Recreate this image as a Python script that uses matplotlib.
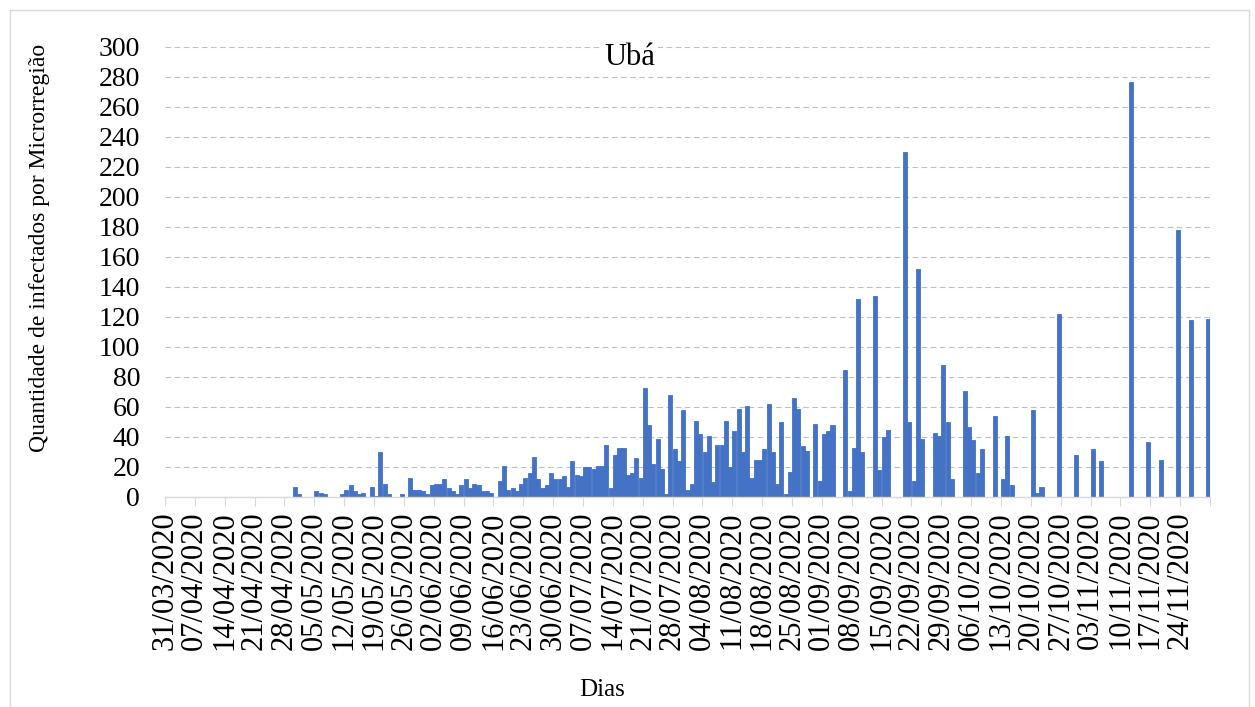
import matplotlib.pyplot as plt
import pandas as pd
from matplotlib.patches import Rectangle

plt.rcParams['font.family'] = ['Liberation Serif', 'DejaVu Serif']

# casos diarios, 31/03/2020 a 30/11/2020
start = "2020-03-31"
casos = [
    0, 0, 0, 0, 0, 0, 0, 0, 0, 0,
    0, 0, 0, 0, 0, 0, 0, 0, 0, 0,
    0, 0, 0, 0, 0, 0, 0, 0, 0, 0,
    7, 2, 0, 0, 0, 4, 3, 2, 0, 0,
    0, 2, 5, 8, 4, 2, 3, 0, 7, 1,
    30, 9, 2, 0, 0, 2, 0, 13, 5, 5,
    4, 2, 8, 9, 9, 12, 6, 4, 2, 8,
    12, 6, 9, 8, 4, 4, 3, 0, 11, 21,
    5, 6, 4, 9, 13, 16, 27, 12, 6, 8,
    16, 12, 12, 14, 7, 24, 15, 14, 20, 20,
    19, 21, 21, 35, 6, 28, 33, 33, 15, 16,
    26, 13, 73, 48, 22, 39, 19, 2, 68, 32,
    24, 58, 5, 9, 51, 42, 30, 41, 10, 35,
    35, 51, 20, 44, 59, 30, 61, 13, 25, 25,
    32, 62, 30, 9, 50, 2, 17, 66, 59, 34,
    31, 0, 49, 11, 42, 44, 48, 0, 0, 85,
    4, 33, 132, 30, 0, 0, 134, 18, 40, 45,
    0, 0, 0, 230, 50, 11, 152, 39, 0, 0,
    43, 41, 88, 50, 12, 0, 0, 71, 47, 38,
    16, 32, 0, 0, 54, 0, 12, 41, 8, 0,
    0, 0, 0, 58, 3, 7, 0, 0, 0, 122,
    0, 0, 0, 28, 0, 0, 0, 32, 0, 24,
    0, 0, 0, 0, 0, 0, 277, 0, 0, 0,
    37, 0, 0, 25, 0, 0, 0, 178, 0, 0,
    118, 0, 0, 0, 119,
]
dias = pd.date_range(start, periods=len(casos), freq="D")
yticks = list(range(0, 301, 20))

W, H = 1255, 707
fig = plt.figure(figsize=(W / 100, H / 100), dpi=100)
ax = fig.add_axes([165 / W, 1 - 497 / H, (1210 - 165) / W, (497 - 47) / H])

x = [i + 0.5 for i in range(len(casos))]
ax.bar(x, casos, width=0.95, color="#4472C4", edgecolor="#4472C4",
       linewidth=0.6, zorder=2)

ax.set_xlim(0, len(casos))
ax.set_ylim(0, 300)
ax.set_yticks(yticks)
ax.set_yticklabels([str(v) for v in yticks], fontsize=20)

pos = list(range(0, len(casos) + 1, 7))
labels = [dias[p].strftime("%d/%m/%Y") if p < len(casos) else "" for p in pos]
ax.set_xticks(pos)
ax.set_xticklabels(labels, rotation=90, fontsize=22)

ax.yaxis.grid(True, color="#bfbfbf", lw=0.8, linestyle=(0, (5, 3.2)), zorder=0)
ax.set_axisbelow(True)
for s in ["top", "right", "left"]:
    ax.spines[s].set_visible(False)
ax.spines["bottom"].set_color("#d9d9d9")
ax.spines["bottom"].set_linewidth(1)
ax.tick_params(axis="y", length=0, pad=18)
ax.tick_params(axis="x", length=6.5, color="#d9d9d9", pad=4)

fig.text(630 / W, 1 - 65 / H, "Ubá", fontsize=22, ha="center", va="baseline",
         bbox=dict(facecolor="white", edgecolor="none", pad=2), zorder=5)
fig.text(40 / W, 1 - 248 / H, "Quantidade de infectados por Microrregião",
         rotation=90, ha="center", va="center", fontsize=17)
fig.text(602 / W, 1 - 690 / H, "Dias", ha="center", va="center", fontsize=18)

fig.patches.append(Rectangle((10 / W, -0.05), (1249 - 10) / W, 1.05 - 10 / H,
                             transform=fig.transFigure, fill=False,
                             edgecolor="#d9d9d9", lw=1))

fig.savefig("out.png", dpi=100)
